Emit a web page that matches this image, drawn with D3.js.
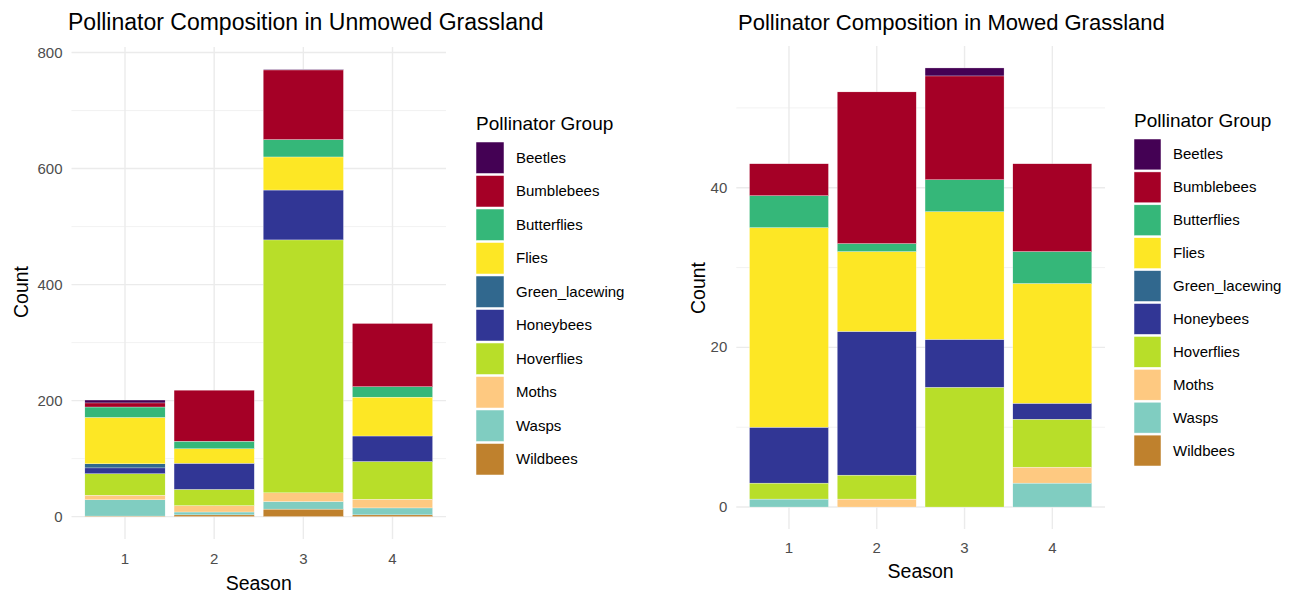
<!DOCTYPE html>
<html>
<head>
<meta charset="utf-8">
<script src="https://cdn.jsdelivr.net/npm/d3@7"></script>
<style>
  body { margin: 0; background: #fff; }
  text { font-family: "Liberation Sans", Arial, sans-serif; }
</style>
</head>
<body>
<svg id="chart" width="1299" height="596"></svg>
<script>
// data
var seasons = ["1", "2", "3", "4"];
var groups = ["Beetles", "Bumblebees", "Butterflies", "Flies", "Green_lacewing",
              "Honeybees", "Hoverflies", "Moths", "Wasps", "Wildbees"];
var groupColors = ["#440154", "#a50026", "#35b779", "#fde725", "#31688e",
                   "#313695", "#b8de29", "#fec981", "#80cdc1", "#bf812d"];

// counts per season (1..4), one array per group
var unmowed = {
  Beetles:        [5, 0, 1, 0],
  Bumblebees:     [7, 88, 120, 109],
  Butterflies:    [18, 13, 30, 18],
  Flies:          [80, 25, 57, 67],
  Green_lacewing: [7, 0, 0, 0],
  Honeybees:      [10, 45, 86, 44],
  Hoverflies:     [37, 28, 436, 65],
  Moths:          [8, 11, 15, 15],
  Wasps:          [28, 5, 13, 12],
  Wildbees:       [1, 3, 13, 3]
};
var mowed = {
  Beetles:        [0, 0, 1, 0],
  Bumblebees:     [4, 19, 13, 11],
  Butterflies:    [4, 1, 4, 4],
  Flies:          [25, 10, 16, 15],
  Green_lacewing: [0, 0, 0, 0],
  Honeybees:      [7, 18, 6, 2],
  Hoverflies:     [2, 3, 15, 6],
  Moths:          [0, 1, 0, 2],
  Wasps:          [1, 0, 0, 3],
  Wildbees:       [0, 0, 0, 0]
};
var unmowedTicks = [0, 200, 400, 600, 800], unmowedMinor = [100, 300, 500, 700];
var mowedTicks = [0, 20, 40], mowedMinor = [10, 30, 50];

var svg = d3.select("#chart");
var color = d3.scaleOrdinal().domain(groups).range(groupColors);

function drawPanel(cfg) {
  var rows = seasons.map(function(s, i) {
    var r = {season: s};
    groups.forEach(function(g) { r[g] = cfg.data[g][i]; });
    return r;
  });
  // ggplot stacks the last level at the bottom
  var stack = d3.stack().keys(groups.slice().reverse());
  var series = stack(rows);
  var maxTotal = d3.max(rows, function(r) { return d3.sum(groups, function(g) { return r[g]; }); });

  var x = d3.scaleBand().domain(seasons).range([cfg.left, cfg.right])
    .paddingInner(0.1).paddingOuter(0.15);
  var y = d3.scaleLinear().domain([-maxTotal * 0.05, maxTotal * 1.05]).range([cfg.bottom, cfg.top]);

  var g = svg.append("g");

  // grid
  g.selectAll(".minor").data(cfg.minor).enter().append("line")
    .attr("x1", cfg.left).attr("x2", cfg.right)
    .attr("y1", function(d) { return y(d); }).attr("y2", function(d) { return y(d); })
    .attr("stroke", "#f0f0f0").attr("stroke-width", 0.9);
  g.selectAll(".major").data(cfg.ticks).enter().append("line")
    .attr("x1", cfg.left).attr("x2", cfg.right)
    .attr("y1", function(d) { return y(d); }).attr("y2", function(d) { return y(d); })
    .attr("stroke", "#ebebeb").attr("stroke-width", 1.4);
  g.selectAll(".vgrid").data(seasons).enter().append("line")
    .attr("x1", function(d) { return x(d) + x.bandwidth() / 2; })
    .attr("x2", function(d) { return x(d) + x.bandwidth() / 2; })
    .attr("y1", cfg.top).attr("y2", cfg.bottom)
    .attr("stroke", "#ebebeb").attr("stroke-width", 1.4);

  // bars
  g.selectAll(".layer").data(series).enter().append("g")
    .attr("fill", function(d) { return color(d.key); })
    .selectAll("rect").data(function(d) { return d.filter(function(v) { return v[1] > v[0]; }); })
    .enter().append("rect")
    .attr("x", function(d) { return x(d.data.season); })
    .attr("width", x.bandwidth())
    .attr("y", function(d) { return y(d[1]); })
    .attr("height", function(d) { return y(d[0]) - y(d[1]); })
    .attr("stroke", "#ffffff").attr("stroke-width", 0.3);

  // tick labels
  g.selectAll(".ylab").data(cfg.ticks).enter().append("text")
    .attr("x", cfg.left - 9).attr("y", function(d) { return y(d) + 5; })
    .attr("text-anchor", "end").attr("fill", "#4d4d4d").style("font-size", "15px")
    .text(function(d) { return d; });
  g.selectAll(".xlab").data(seasons).enter().append("text")
    .attr("x", function(d) { return x(d) + x.bandwidth() / 2; })
    .attr("y", cfg.bottom + cfg.xTickOff)
    .attr("text-anchor", "middle").attr("fill", "#4d4d4d").style("font-size", "15px")
    .text(function(d) { return d; });

  // titles
  g.append("text").attr("x", cfg.titleX).attr("y", 30)
    .style("font-size", cfg.titleSize + "px").attr("fill", "#000").text(cfg.title);
  g.append("text").attr("x", (cfg.left + cfg.right) / 2).attr("y", cfg.xTitleY)
    .attr("text-anchor", "middle").style("font-size", "19.5px").text("Season");
  g.append("text")
    .attr("transform", "translate(" + cfg.yTitleX + "," + cfg.yTitleY + ") rotate(-90)")
    .attr("text-anchor", "middle").style("font-size", "19.5px").text("Count");

  // legend
  var lg = g.append("g").attr("transform", "translate(" + cfg.legX + "," + cfg.legY + ")");
  lg.append("text").attr("x", 0).attr("y", -12).style("font-size", "19px").text("Pollinator Group");
  var item = lg.selectAll(".item").data(groups).enter().append("g")
    .attr("transform", function(d, i) { return "translate(0," + (i * cfg.legStep) + ")"; });
  item.append("rect").attr("width", cfg.keyW).attr("height", cfg.legStep - 2)
    .attr("fill", function(d) { return color(d); })
    .attr("stroke", "#ffffff").attr("stroke-width", 0.5);
  item.append("text").attr("x", cfg.keyW + 12).attr("y", (cfg.legStep - 2) / 2 + 5)
    .style("font-size", "15px").attr("fill", "#000").text(function(d) { return d; });
}

drawPanel({
  data: unmowed, ticks: unmowedTicks, minor: unmowedMinor,
  title: "Pollinator Composition in Unmowed Grassland", titleX: 68, titleSize: 23,
  left: 71.5, right: 446, top: 47, bottom: 539, xTickOff: 25,
  xTitleY: 590, yTitleX: 28, yTitleY: 292,
  legX: 476, legY: 142, legStep: 33.5, keyW: 28
});
drawPanel({
  data: mowed, ticks: mowedTicks, minor: mowedMinor,
  title: "Pollinator Composition in Mowed Grassland", titleX: 738, titleSize: 22,
  left: 736.3, right: 1105, top: 46, bottom: 529, xTickOff: 23.5,
  xTitleY: 578, yTitleX: 705, yTitleY: 288,
  legX: 1134, legY: 139, legStep: 32.9, keyW: 27
});
</script>
</body>
</html>
